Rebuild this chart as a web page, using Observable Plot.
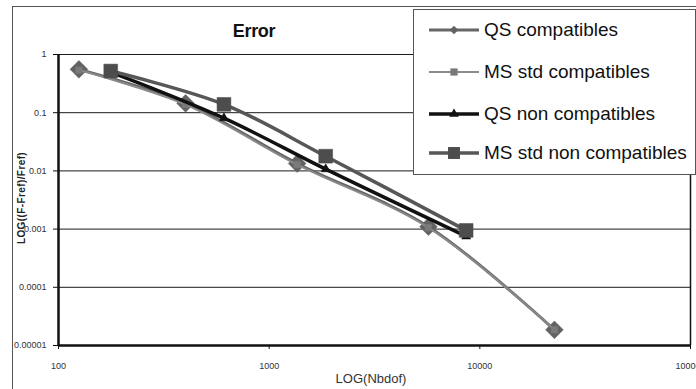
<!DOCTYPE html>
<html><head><meta charset="utf-8">
<script src="https://cdn.jsdelivr.net/npm/d3@7"></script>
<script src="https://cdn.jsdelivr.net/npm/@observablehq/plot@0.6"></script>
<style>
body{margin:0;background:#fff;font-family:"Liberation Sans",Arial,sans-serif;}
#wrap{position:relative;width:696px;height:389px;overflow:hidden;background:#fff;}
#wrap > svg{position:absolute;left:0;top:0;}
.frameBorder{position:absolute;left:12px;top:6px;width:700px;height:400px;border:1px solid #555;box-sizing:border-box;}
.title{position:absolute;left:154px;width:200px;top:22px;text-align:center;font-size:18px;font-weight:bold;line-height:18px;color:#111;letter-spacing:-0.3px;}
.xlab{position:absolute;left:300px;width:142px;top:372px;text-align:center;font-size:13px;line-height:14px;color:#333;}
.ylab{position:absolute;left:-78px;width:200px;top:192px;text-align:center;font-size:10px;font-weight:bold;line-height:12px;color:#222;transform:rotate(-90deg);letter-spacing:0.4px;}
.legend{position:absolute;left:413px;top:9px;width:283px;height:166px;border:1px solid #555;box-sizing:border-box;background:#fff;}
.item{position:absolute;left:14px;height:24px;display:flex;align-items:center;font-size:19px;color:#111;white-space:nowrap;}
.item svg{display:block;margin-right:2px;}
</style></head><body><div id="wrap"></div>
<script>
// ---- data ----
const titleText = "Error";
const xLabel = "LOG(Nbdof)";
const yLabel = "LOG((F-Fref)/Fref)";
const seriesNames = ["QS compatibles", "MS std compatibles", "QS non compatibles", "MS std non compatibles"];

const nbdofCompat = [125, 401, 1358, 5702, 22600];
const qsCompat = [0.556, 0.145, 0.0134, 0.00110, 0.0000186];
const msCompat = [0.54, 0.138, 0.0128, 0.00106, 0.0000186];

const nbdofNon = [177, 610, 1855, 8610];
const qsNon = [0.50, 0.0807, 0.0107, 0.00075];
const msNon = [0.52, 0.139, 0.0179, 0.00095];

const xTicks = [100, 1000, 10000, 100000];
const xTickLabels = ["100", "1000", "10000", "100000"];
const yTicks = [1, 0.1, 0.01, 0.001, 0.0001, 0.00001];
const yTickLabels = ["1", "0.1", "0.01", "0.001", "0.0001", "0.00001"];

// ---- build table ----
const series = [
  {name: seriesNames[0], x: nbdofCompat, y: qsCompat, line: "#666666", lw: 3, fill: "#626262", symbol: "diamond2", r: 8.0, lr: 3.8},
  {name: seriesNames[1], x: nbdofCompat, y: msCompat, line: "#8a8a8a", lw: 2, fill: "#7a7a7a", symbol: "square2", r: 4.2, lr: 4.6},
  {name: seriesNames[2], x: nbdofNon, y: qsNon, line: "#111111", lw: 3.5, fill: "#111111", symbol: "triangle2", r: 4.4, lr: 4.6},
  {name: seriesNames[3], x: nbdofNon, y: msNon, line: "#575757", lw: 3.5, fill: "#4d4d4d", symbol: "square2", r: 8.8, lr: 7.6}
];
const rows = s => s.x.map((v, i) => ({nbdof: v, err: s.y[i]}));

const marks = [
  Plot.ruleY(yTicks, {stroke: "#1a1a1a", strokeWidth: 1}),
  Plot.ruleX([xTicks[0]], {stroke: "#111", strokeWidth: 2.5}),
  Plot.ruleX([xTicks[xTicks.length - 1]], {stroke: "#111", strokeWidth: 1.5}),
  Plot.ruleY([yTicks[yTicks.length - 1]], {stroke: "#111", strokeWidth: 2.5}),
  Plot.axisX({ticks: xTicks, tickFormat: d => xTickLabels[xTicks.indexOf(d)], tickSize: 4, tickPadding: 13, label: null, stroke: "#111"}),
  Plot.axisY({ticks: yTicks, tickFormat: d => yTickLabels[yTicks.indexOf(d)], tickSize: 5, tickPadding: 7, label: null, stroke: "#111"})
];
for (const s of series) {
  const d = rows(s);
  marks.push(Plot.line(d, {x: "nbdof", y: "err", stroke: s.line, strokeWidth: s.lw, curve: "catmull-rom"}));
  marks.push(Plot.dot(d, {x: "nbdof", y: "err", symbol: () => s.symbol, fill: s.fill, stroke: s.fill, strokeWidth: 0.5, r: s.r}));
}

const chart = Plot.plot({
  width: 696, height: 389,
  marginLeft: 58, marginRight: 6, marginTop: 54, marginBottom: 44,
  style: {fontFamily: "'Liberation Sans', Arial, sans-serif", fontSize: "9px", color: "#333", background: "transparent"},
  x: {type: "log", domain: [100, 100000]},
  y: {type: "log", domain: [0.00001, 1]},
  marks
});

const wrap = document.getElementById("wrap");
const border = document.createElement("div"); border.className = "frameBorder"; wrap.appendChild(border);
wrap.appendChild(chart);

const t = document.createElement("div"); t.className = "title"; t.textContent = titleText; wrap.appendChild(t);
const xl = document.createElement("div"); xl.className = "xlab"; xl.textContent = xLabel; wrap.appendChild(xl);
const yl = document.createElement("div"); yl.className = "ylab"; yl.textContent = yLabel; wrap.appendChild(yl);

// legend
const leg = document.createElement("div"); leg.className = "legend"; wrap.appendChild(leg);
const rowTops = [8, 50, 92, 131];
const symMap = {diamond2: d3.symbolDiamond2, square2: d3.symbolSquare2, triangle2: d3.symbolTriangle2};
series.forEach((s, i) => {
  const it = document.createElement("div"); it.className = "item"; it.style.top = rowTops[i] + "px";
  const ns = "http://www.w3.org/2000/svg";
  const sv = document.createElementNS(ns, "svg"); sv.setAttribute("width", 54); sv.setAttribute("height", 24);
  const ln = document.createElementNS(ns, "line");
  ln.setAttribute("x1", 1); ln.setAttribute("x2", 51); ln.setAttribute("y1", 12); ln.setAttribute("y2", 12);
  ln.setAttribute("stroke", s.line); ln.setAttribute("stroke-width", s.lw); sv.appendChild(ln);
  const p = document.createElementNS(ns, "path");
  p.setAttribute("d", d3.symbol(symMap[s.symbol], Math.PI * s.lr * s.lr)());
  p.setAttribute("transform", "translate(26,12)");
  p.setAttribute("fill", s.fill); sv.appendChild(p);
  it.appendChild(sv);
  const tx = document.createElement("span"); tx.textContent = s.name; it.appendChild(tx);
  leg.appendChild(it);
});
</script></body></html>
